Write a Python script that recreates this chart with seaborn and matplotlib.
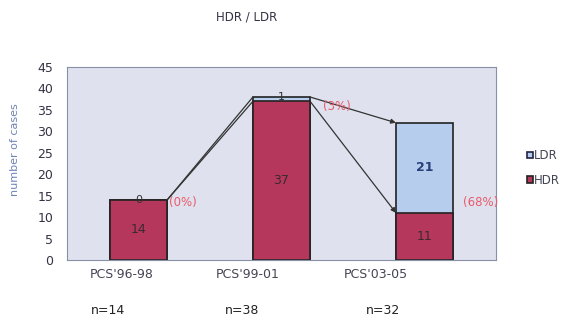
import matplotlib
matplotlib.use("Agg")
import matplotlib.pyplot as plt
from matplotlib.patches import Patch
import seaborn as sns
import pandas as pd

# Data
periods = ["PCS'96-98", "PCS'99-01", "PCS'03-05"]
sample_sizes = ["n=14", "n=38", "n=32"]
hdr = [14, 37, 11]
ldr = [0, 1, 21]
ldr_share = ["(0%)", "(3%)", "(68%)"]
y_ticks = [0, 5, 10, 15, 20, 25, 30, 35, 40, 45]

HDR_COLOR = "#b5375c"
LDR_COLOR = "#b7cdee"
PANEL_BG = "#dfe2ee"

sns.set_style("white")
plt.rcParams["font.family"] = ["DejaVu Sans"]

total = [h + l for h, l in zip(hdr, ldr)]
df = pd.DataFrame({"period": periods, "HDR": hdr, "LDR": ldr, "total": total})

fig = plt.figure(figsize=(5.87, 3.21), dpi=100)
ax = fig.add_axes([67 / 587, 1 - 260 / 321, 429 / 587, 193 / 321])
ax.set_facecolor(PANEL_BG)

W = 0.4
# stacked bars: total (LDR on top) then HDR over it
sns.barplot(data=df, x="period", y="total", color=LDR_COLOR, width=W,
            edgecolor="#222222", linewidth=1.2, saturation=1, ax=ax)
sns.barplot(data=df, x="period", y="HDR", color=HDR_COLOR, width=W,
            edgecolor="#222222", linewidth=1.2, saturation=1, ax=ax)

ax.set_xlim(-0.5, 2.5)
ax.set_ylim(0, 45)
ax.set_yticks(y_ticks)
ax.tick_params(axis="y", length=0, labelsize=9, labelcolor="#333344", pad=10)
ax.set_xticks([])
ax.set_xlabel("")
ax.set_ylabel("")
for s in ax.spines.values():
    s.set_color("#8890a8")
    s.set_linewidth(0.8)

# series lines between adjacent bars
for i in range(len(periods) - 1):
    for a, b in ((hdr[i], hdr[i + 1]), (total[i], total[i + 1])):
        if i == 0:
            ax.plot([i + W / 2, i + 1 - W / 2], [a, b], color="#333333", lw=0.9, zorder=3)
        else:
            ax.annotate("", xy=(i + 1 - W / 2, b), xytext=(i + W / 2, a),
                        arrowprops=dict(arrowstyle="-|>", color="#333333", lw=0.9,
                                        mutation_scale=7, shrinkA=0, shrinkB=0),
                        zorder=3)

# value labels
for i in range(len(periods)):
    ax.text(i, hdr[i] / 2, str(hdr[i]), ha="center", va="center",
            fontsize=9, color="#3a2a30", zorder=4)
    ldr_y = hdr[i] + ldr[i] / 2 if ldr[i] > 1 else total[i]
    ax.text(i, ldr_y, str(ldr[i]), ha="center", va="center",
            fontsize=9 if ldr[i] > 1 else 8, color="#27407a" if ldr[i] > 1 else "#333333",
            fontweight="bold" if ldr[i] > 1 else "normal", zorder=4)

# LDR share labels
share_pos = [(0.21, 13.4), (1.29, 35.7), (2.27, 13.5)]
for (x, y), txt in zip(share_pos, ldr_share):
    ax.text(x, y, txt, ha="left", va="center", fontsize=8.5, color="#e85a6a", zorder=4)

# title and axis label
fig.text(247 / 587, 1 - 17 / 321, "HDR / LDR", ha="center", va="center",
         fontsize=8.5, color="#333344")
fig.text(15 / 587, 1 - 150 / 321, "number of cases", rotation=90, ha="center",
         va="center", fontsize=8, color="#6f84b5")

# period and sample size labels
for px, txt in zip([122, 248, 376], periods):
    fig.text(px / 587, 1 - 275 / 321, txt, ha="center", va="center",
             fontsize=9, color="#444455")
for px, txt in zip([108, 242, 383], sample_sizes):
    fig.text(px / 587, 1 - 311 / 321, txt, ha="center", va="center",
             fontsize=9, color="#222222")

# legend
handles = [Patch(facecolor=LDR_COLOR, edgecolor="#222244", linewidth=1.2, label="LDR"),
           Patch(facecolor=HDR_COLOR, edgecolor="#222222", linewidth=1.2, label="HDR")]
fig.legend(handles=handles, loc="center left", bbox_to_anchor=(516 / 587, 1 - 168 / 321),
           frameon=False, fontsize=8.5, handlelength=0.5, handleheight=0.5,
           handletextpad=0.15, labelspacing=1.0, labelcolor="#444455")

fig.savefig("out.png", dpi=100, facecolor="white")
